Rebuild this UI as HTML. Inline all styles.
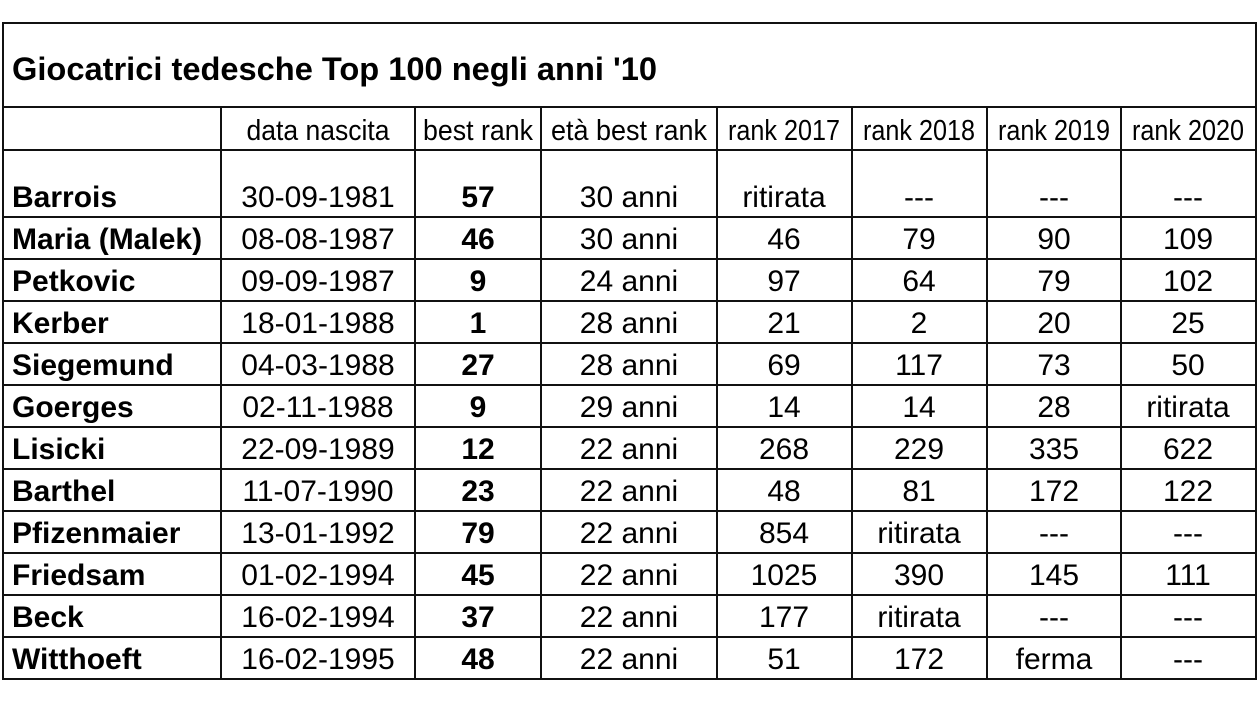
<!DOCTYPE html>
<html><head><meta charset="utf-8"><style>
html,body{margin:0;padding:0;background:#fff;}
svg{display:block;}
text{font-family:"Liberation Sans",Arial,sans-serif;fill:#000;}
.h{font-size:29px;}
.d{font-size:30px;}
.b{font-weight:bold;}
</style></head><body>
<svg width="1260" height="701" viewBox="0 0 1260 701" xmlns="http://www.w3.org/2000/svg">
<rect x="0" y="0" width="1260" height="701" fill="#fff"/>
<g stroke="#111" stroke-width="2" fill="none">
<rect x="3" y="23" width="1253" height="656"/>
<line x1="3" y1="107" x2="1256" y2="107"/>
<line x1="3" y1="150" x2="1256" y2="150"/>
<line x1="3" y1="217" x2="1256" y2="217"/>
<line x1="3" y1="259" x2="1256" y2="259"/>
<line x1="3" y1="301" x2="1256" y2="301"/>
<line x1="3" y1="343" x2="1256" y2="343"/>
<line x1="3" y1="385" x2="1256" y2="385"/>
<line x1="3" y1="427" x2="1256" y2="427"/>
<line x1="3" y1="469" x2="1256" y2="469"/>
<line x1="3" y1="511" x2="1256" y2="511"/>
<line x1="3" y1="553" x2="1256" y2="553"/>
<line x1="3" y1="595" x2="1256" y2="595"/>
<line x1="3" y1="637" x2="1256" y2="637"/>
<line x1="221" y1="107" x2="221" y2="679"/>
<line x1="415" y1="107" x2="415" y2="679"/>
<line x1="541" y1="107" x2="541" y2="679"/>
<line x1="717" y1="107" x2="717" y2="679"/>
<line x1="852" y1="107" x2="852" y2="679"/>
<line x1="987" y1="107" x2="987" y2="679"/>
<line x1="1121" y1="107" x2="1121" y2="679"/>
</g>
<text x="12" y="80" class="b" font-size="32" textLength="645" lengthAdjust="spacingAndGlyphs">Giocatrici tedesche Top 100 negli anni '10</text>
<g class="h" text-anchor="middle">
<text x="318" y="140" textLength="143" lengthAdjust="spacingAndGlyphs">data nascita</text>
<text x="478" y="140" textLength="110" lengthAdjust="spacingAndGlyphs">best rank</text>
<text x="629" y="140" textLength="156" lengthAdjust="spacingAndGlyphs">età best rank</text>
<text x="784" y="140" textLength="112" lengthAdjust="spacingAndGlyphs">rank 2017</text>
<text x="919" y="140" textLength="112" lengthAdjust="spacingAndGlyphs">rank 2018</text>
<text x="1054" y="140" textLength="112" lengthAdjust="spacingAndGlyphs">rank 2019</text>
<text x="1188" y="140" textLength="112" lengthAdjust="spacingAndGlyphs">rank 2020</text>
</g>
<g class="d">
<g class="b">
<text x="12" y="207">Barrois</text>
<text x="12" y="249">Maria (Malek)</text>
<text x="12" y="291">Petkovic</text>
<text x="12" y="333">Kerber</text>
<text x="12" y="375">Siegemund</text>
<text x="12" y="417">Goerges</text>
<text x="12" y="459">Lisicki</text>
<text x="12" y="501">Barthel</text>
<text x="12" y="543">Pfizenmaier</text>
<text x="12" y="585">Friedsam</text>
<text x="12" y="627">Beck</text>
<text x="12" y="669">Witthoeft</text>
</g>
<g text-anchor="middle">
<text x="318" y="207">30-09-1981</text><text x="478" y="207" class="b">57</text><text x="629" y="207">30 anni</text><text x="784" y="207">ritirata</text><text x="919" y="207">---</text><text x="1054" y="207">---</text><text x="1188" y="207">---</text>
<text x="318" y="249">08-08-1987</text><text x="478" y="249" class="b">46</text><text x="629" y="249">30 anni</text><text x="784" y="249">46</text><text x="919" y="249">79</text><text x="1054" y="249">90</text><text x="1188" y="249">109</text>
<text x="318" y="291">09-09-1987</text><text x="478" y="291" class="b">9</text><text x="629" y="291">24 anni</text><text x="784" y="291">97</text><text x="919" y="291">64</text><text x="1054" y="291">79</text><text x="1188" y="291">102</text>
<text x="318" y="333">18-01-1988</text><text x="478" y="333" class="b">1</text><text x="629" y="333">28 anni</text><text x="784" y="333">21</text><text x="919" y="333">2</text><text x="1054" y="333">20</text><text x="1188" y="333">25</text>
<text x="318" y="375">04-03-1988</text><text x="478" y="375" class="b">27</text><text x="629" y="375">28 anni</text><text x="784" y="375">69</text><text x="919" y="375">117</text><text x="1054" y="375">73</text><text x="1188" y="375">50</text>
<text x="318" y="417">02-11-1988</text><text x="478" y="417" class="b">9</text><text x="629" y="417">29 anni</text><text x="784" y="417">14</text><text x="919" y="417">14</text><text x="1054" y="417">28</text><text x="1188" y="417">ritirata</text>
<text x="318" y="459">22-09-1989</text><text x="478" y="459" class="b">12</text><text x="629" y="459">22 anni</text><text x="784" y="459">268</text><text x="919" y="459">229</text><text x="1054" y="459">335</text><text x="1188" y="459">622</text>
<text x="318" y="501">11-07-1990</text><text x="478" y="501" class="b">23</text><text x="629" y="501">22 anni</text><text x="784" y="501">48</text><text x="919" y="501">81</text><text x="1054" y="501">172</text><text x="1188" y="501">122</text>
<text x="318" y="543">13-01-1992</text><text x="478" y="543" class="b">79</text><text x="629" y="543">22 anni</text><text x="784" y="543">854</text><text x="919" y="543">ritirata</text><text x="1054" y="543">---</text><text x="1188" y="543">---</text>
<text x="318" y="585">01-02-1994</text><text x="478" y="585" class="b">45</text><text x="629" y="585">22 anni</text><text x="784" y="585">1025</text><text x="919" y="585">390</text><text x="1054" y="585">145</text><text x="1188" y="585">111</text>
<text x="318" y="627">16-02-1994</text><text x="478" y="627" class="b">37</text><text x="629" y="627">22 anni</text><text x="784" y="627">177</text><text x="919" y="627">ritirata</text><text x="1054" y="627">---</text><text x="1188" y="627">---</text>
<text x="318" y="669">16-02-1995</text><text x="478" y="669" class="b">48</text><text x="629" y="669">22 anni</text><text x="784" y="669">51</text><text x="919" y="669">172</text><text x="1054" y="669">ferma</text><text x="1188" y="669">---</text>
</g>
</g>
</svg>
</body></html>
